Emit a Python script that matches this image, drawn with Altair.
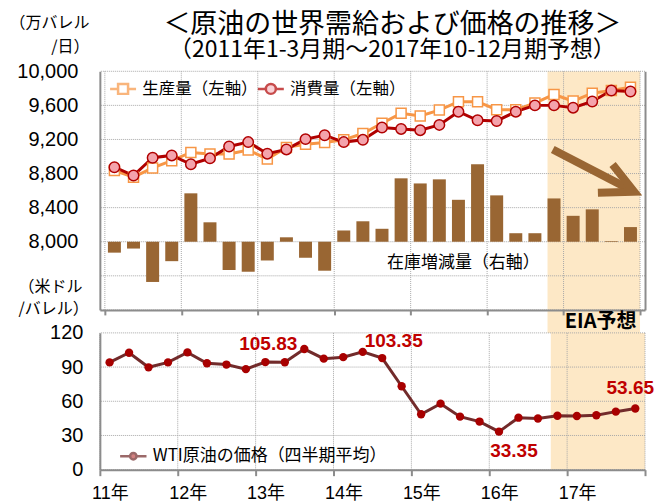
import altair as alt
import pandas as pd

# ---------------- data ----------------
years = [2011, 2012, 2013, 2014, 2015, 2016, 2017]
quarters = [1, 2, 3, 4]
production = [8835, 8757, 8866, 8951, 9048, 9029, 9029, 9076, 8971, 9107, 9145, 9165,
              9196, 9270, 9390, 9507, 9476, 9545, 9643, 9643, 9549, 9549, 9627, 9728,
              9650, 9743, 9775, 9813]
consumption = [8874, 8777, 8986, 9013, 8909, 8979, 9118, 9169, 9033, 9083, 9204, 9250,
               9169, 9196, 9340, 9324, 9309, 9371, 9526, 9425, 9417, 9526, 9600, 9600,
               9573, 9646, 9775, 9763]
inventory = [-32, -20, -118, -57, 142, 57, -83, -88, -55, 13, -47, -85,
             33, 60, 38, 186, 171, 183, 123, 227, 136, 25, 25, 127,
             76, 95, 2, 43]
wti = [94.1, 102.6, 89.8, 94.1, 102.9, 93.4, 92.2, 88.2, 94.4, 94.2, 105.83, 97.4,
       98.7, 103.35, 97.9, 73.2, 48.6, 57.9, 46.5, 42.2, 33.35, 45.6, 44.9, 47.3,
       47.1, 47.7, 50.9, 53.65]
series_names = ["生産量（左軸）", "消費量（左軸）"]
wti_name = "WTI原油の価格（四半期平均）"
title_text = "＜原油の世界需給および価格の推移＞"
subtitle_text = "（2011年1-3月期～2017年10-12月期予想）"
year_ticks = [2011, 2012, 2013, 2014, 2015, 2016, 2017, 2018]
left_ticks = [7200, 7600, 8000, 8400, 8800, 9200, 9600, 10000]
price_ticks = [0, 30, 60, 90, 120]
forecast_start, forecast_end = 2016.79, 2018.0
labelled = ["2013Q3", "2014Q2", "2016Q1", "2017Q4"]
inv_note = ("在庫増減量（右軸）", 2015.69, 7753)
arrow_shaft = (2016.859, 9082, 2017.821, 8635)
arrow_head_x = [2017.641, 2017.923, 2017.449]
arrow_head_y = [8906, 8588, 8576]

period = [f"{y}Q{q}" for y in years for q in quarters]
t = [y + (q - 0.5) / 4 for y in years for q in quarters]
df = pd.DataFrame({"period": period, "t": t, "production": production,
                   "consumption": consumption, "inventory": inventory, "wti": wti})

# ---------------- style ----------------
JP = "Noto Sans CJK JP"
NUM = "Liberation Sans, Noto Sans CJK JP"
ORANGE = "#F79646"
DARKRED = "#B00000"
PINK = "#F4A3AC"
BROWN = "#996633"
MAROON = "#722B2B"
REDPT = "#A80000"
LABEL = "#C00000"
SHADE = "#FDE8C6"
GRID = "#A8A8A8"
AXIS = "#8C8C8C"
W, TOP_H, BOT_H, GAP = 546, 239, 137, 23

xscale = alt.Scale(domain=[2011, 2018], nice=False, zero=False)
top_xaxis = alt.Axis(values=year_ticks, labels=False, title=None, grid=False,
                     domainColor=AXIS, domainWidth=2, tickColor=AXIS, tickWidth=2,
                     tickSize=5, zindex=1)
left_scale = alt.Scale(domain=[7200, 10000], nice=False, zero=False)
left_axis = alt.Axis(values=left_ticks, grid=False, ticks=False, domainColor=AXIS,
                     domainWidth=2, labelFont=NUM, labelFontSize=20, labelColor="black",
                     labelPadding=22, zindex=1,
                     labelExpr="datum.value >= 8000 ? format(datum.value, ',') : ''",
                     title=["（万バレル", "/日）"], titleAngle=0, titleAlign="right",
                     titleBaseline="top", titleX=-11, titleY=-57, titleFont=JP,
                     titleFontSize=16, titleFontWeight="normal", titleColor="black",
                     titleLineHeight=24)
right_axis = alt.Axis(orient="right", labels=False, ticks=False, title=None, grid=False,
                      domainColor=AXIS, domainWidth=2, zindex=1)


def ly(field, axis=None):
    return alt.Y(field, type="quantitative", scale=left_scale, axis=axis)


def tx(field):
    return alt.X(field, type="quantitative", scale=xscale, axis=top_xaxis)


shade_df = pd.DataFrame({"start": [forecast_start], "end": [forecast_end]})

shade_top = alt.Chart(shade_df).mark_rect(color=SHADE).encode(
    x=tx("start"), x2="end:Q", y=alt.value(0), y2=alt.value(TOP_H + GAP))
hgrid_top = alt.Chart(pd.DataFrame({"v": left_ticks})).mark_rule(
    color=GRID, strokeDash=[1, 1], strokeWidth=1).encode(y=ly("v"))
vgrid_top = alt.Chart(pd.DataFrame({"yr": year_ticks})).mark_rule(
    color=GRID, strokeDash=[1, 1], strokeWidth=1).encode(x=tx("yr"))
bars = alt.Chart(df).mark_bar(size=13, color=BROWN).encode(
    x=tx("t"),
    y=alt.Y("inventory:Q", scale=alt.Scale(domain=[-200, 500], nice=False), axis=right_axis))
prod_line = alt.Chart(df).mark_line(color=ORANGE, strokeWidth=3).encode(
    x=tx("t"), y=ly("production", left_axis))
cons_line = alt.Chart(df).mark_line(color=DARKRED, strokeWidth=3).encode(
    x=tx("t"), y=ly("consumption"))
prod_pts = alt.Chart(df).mark_point(shape="square", filled=True, fill="white", stroke=ORANGE,
                                    strokeWidth=1.5, size=100, opacity=1).encode(
    x=tx("t"), y=ly("production"))
cons_pts = alt.Chart(df).mark_point(shape="circle", filled=True, fill=PINK, stroke=DARKRED,
                                    strokeWidth=1.5, size=110, opacity=1).encode(
    x=tx("t"), y=ly("consumption"))
note = alt.Chart(pd.DataFrame({"label": [inv_note[0]], "x": [inv_note[1]], "y": [inv_note[2]]})
                 ).mark_text(font=JP, fontSize=17, color="black").encode(
    x=tx("x"), y=ly("y"), text="label:N")
shaft = alt.Chart(pd.DataFrame({"x": [arrow_shaft[0]], "y": [arrow_shaft[1]],
                                "x2": [arrow_shaft[2]], "y2": [arrow_shaft[3]]})
                  ).mark_rule(color=BROWN, strokeWidth=8).encode(
    x=tx("x"), y=ly("y"), x2="x2:Q", y2="y2:Q")
head = alt.Chart(pd.DataFrame({"x": arrow_head_x, "y": arrow_head_y, "o": [0, 1, 2]})
                 ).mark_line(color=BROWN, strokeWidth=8, strokeJoin="miter").encode(
    x=tx("x"), y=ly("y"), order="o:Q")

title_mark = alt.Chart(pd.DataFrame({"label": [title_text]})).mark_text(
    font=JP, fontSize=27, color="black", baseline="middle", align="center").encode(
    x=alt.value(293), y=alt.value(-46), text="label:N")
subtitle_mark = alt.Chart(pd.DataFrame({"label": [subtitle_text]})).mark_text(
    font=JP, fontSize=23, color="black", baseline="middle", align="center").encode(
    x=alt.value(293), y=alt.value(-21), text="label:N")

sq_path = "M-2.6,0H-1M1,0H2.6M-1,-1H1V1H-1Z"
ci_path = "M-2.6,0H-1M1,0H2.6M1,0A1,1,0,1,1,-1,0A1,1,0,1,1,1,0Z"
top_legend = alt.Legend(title=None, orient="none", legendX=15, legendY=9,
                        direction="horizontal", labelFont=JP, labelFontSize=16.5,
                        labelColor="black", symbolSize=100, symbolStrokeWidth=2.5,
                        labelOffset=11, columnPadding=-5, labelLimit=0)
legend_top = alt.Chart(pd.DataFrame({"series": series_names})).transform_filter(
    "false").mark_point(filled=False).encode(
    stroke=alt.Stroke("series:N", scale=alt.Scale(domain=series_names, range=[ORANGE, DARKRED]),
                      legend=top_legend),
    fill=alt.Fill("series:N", scale=alt.Scale(domain=series_names, range=["white", PINK]),
                  legend=top_legend),
    shape=alt.Shape("series:N", scale=alt.Scale(domain=series_names, range=[sq_path, ci_path]),
                    legend=top_legend))

top = alt.layer(shade_top, vgrid_top, hgrid_top, bars, prod_line, cons_line, prod_pts,
                cons_pts, note, shaft, head, title_mark, subtitle_mark, legend_top
                ).resolve_scale(y="independent").properties(width=W, height=TOP_H)

# ---------------- bottom panel ----------------
bot_xaxis = alt.Axis(values=year_ticks, title=None, grid=False, domainColor=AXIS,
                     domainWidth=2, tickColor=AXIS, tickWidth=2, tickSize=6,
                     labelFont=NUM, labelFontSize=18, labelColor="black", labelPadding=9,
                     labelOffset=10, labelFlush=False, zindex=1,
                     labelExpr="datum.value < 2018 ? substring(toString(datum.value), 2) + '年' : ''")
price_scale = alt.Scale(domain=[0, 120], nice=False)
price_axis = alt.Axis(values=price_ticks, grid=False, ticks=False, domainColor=AXIS,
                      domainWidth=2, labelFont=NUM, labelFontSize=20, labelColor="black",
                      labelPadding=17, zindex=1,
                      title=["（米ドル", "/バレル）"], titleAngle=0, titleAlign="left",
                      titleBaseline="top", titleX=-82, titleY=-54, titleFont=JP,
                      titleFontSize=16, titleFontWeight="normal", titleColor="black",
                      titleLineHeight=22)


def bx(field):
    return alt.X(field, type="quantitative", scale=xscale, axis=bot_xaxis)


def py(field):
    return alt.Y(field, type="quantitative", scale=price_scale, axis=price_axis)


shade_bot = alt.Chart(shade_df).mark_rect(color=SHADE).encode(x=bx("start"), x2="end:Q")
hgrid_bot = alt.Chart(pd.DataFrame({"v": price_ticks})).mark_rule(
    color=GRID, strokeDash=[1, 1], strokeWidth=1).encode(y=py("v"))
vgrid_bot = alt.Chart(pd.DataFrame({"yr": year_ticks})).mark_rule(
    color=GRID, strokeDash=[1, 1], strokeWidth=1).encode(x=bx("yr"))
wti_line = alt.Chart(df).mark_line(color=MAROON, strokeWidth=3).encode(x=bx("t"), y=py("wti"))
wti_pts = alt.Chart(df).mark_circle(size=70, color=REDPT, opacity=1).encode(x=bx("t"), y=py("wti"))

label_styles = {
    "2013Q3": dict(align="right", dx=-7, dy=-5),
    "2014Q2": dict(align="left", dx=2, dy=-11),
    "2016Q1": dict(align="center", dx=15, dy=19),
    "2017Q4": dict(align="center", dx=-5, dy=-21),
}
label_layers = []
for p in labelled:
    st = label_styles[p]
    label_layers.append(
        alt.Chart(df).transform_filter(alt.datum.period == p).mark_text(
            font="Liberation Sans", fontSize=19, fontWeight="bold", color=LABEL,
            baseline="middle", **st).encode(
            x=bx("t"), y=py("wti"), text=alt.Text("wti:Q", format=".2f")))

eia = alt.Chart(pd.DataFrame({"label": ["EIA予想"], "x": [2017.43]})).mark_text(
    font=JP, fontSize=20, fontWeight="bold", color="black", baseline="middle").encode(
    x=bx("x"), y=alt.value(-11), text="label:N")

wti_path = "M-3.3,0H-0.8M0.8,0H3.3M0.8,0A0.8,0.8,0,1,1,-0.8,0A0.8,0.8,0,1,1,0.8,0Z"
bot_legend = alt.Legend(title=None, orient="none", legendX=25, legendY=115,
                        direction="horizontal", labelFont=JP, labelFontSize=17,
                        labelColor="black", symbolSize=64, symbolStrokeWidth=2.5,
                        labelOffset=11, labelLimit=0)
legend_bot = alt.Chart(pd.DataFrame({"s": [wti_name]})).transform_filter(
    "false").mark_point(filled=False).encode(
    stroke=alt.Stroke("s:N", scale=alt.Scale(domain=[wti_name], range=[MAROON]), legend=bot_legend),
    fill=alt.Fill("s:N", scale=alt.Scale(domain=[wti_name], range=[REDPT]), legend=bot_legend),
    shape=alt.Shape("s:N", scale=alt.Scale(domain=[wti_name], range=[wti_path]), legend=bot_legend))

bottom = alt.layer(shade_bot, vgrid_bot, hgrid_bot, wti_line, wti_pts, *label_layers, eia,
                   legend_bot).properties(width=W, height=BOT_H)

chart = alt.vconcat(top, bottom, spacing=GAP, bounds="flush").resolve_scale(
    stroke="independent", fill="independent", shape="independent", x="independent"
).properties(
    padding={"left": 0, "top": 3, "right": 0, "bottom": 0},
    background="white",
).configure_view(stroke=None)

chart.save("out.html", embed_options={"renderer": "svg", "actions": False})
